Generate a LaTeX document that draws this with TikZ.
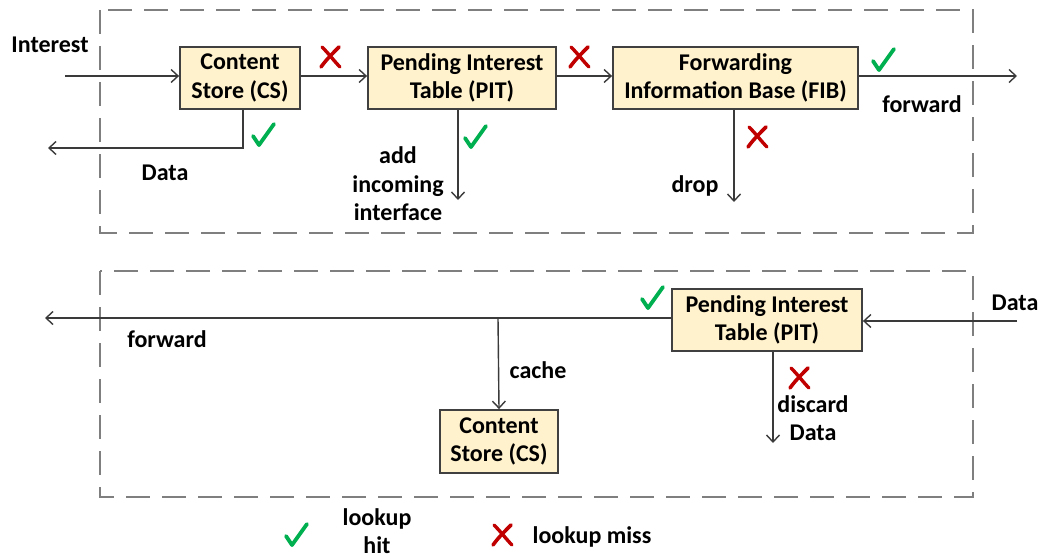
\documentclass[tikz,border=0pt]{standalone}
\usepackage{fontspec}
\setmainfont{Carlito}
\usetikzlibrary{arrows.meta}
\definecolor{boxfill}{HTML}{FFF2CC}
\definecolor{boxline}{HTML}{404040}
\definecolor{arrline}{HTML}{3A3A3A}
\definecolor{dashgray}{HTML}{7F7F7F}
\definecolor{okgreen}{HTML}{00B050}
\definecolor{nored}{HTML}{C00000}
\begin{document}
\begin{tikzpicture}[x=1pt,y=-1pt,
  font=\bfseries\fontsize{24}{28.5}\selectfont,
  box/.style={draw=boxline, line width=1.8pt, fill=boxfill, align=center, inner sep=0pt},
  arr/.style={draw=arrline, line width=1.4pt, -{Straight Barb[length=7pt,width=13pt,line width=1.4pt]}},
  dbox/.style={draw=dashgray, line width=2.6pt, dash pattern=on 24pt off 12pt},
  lbl/.style={inner sep=0pt, align=center},
  chk/.pic={\draw[okgreen, line width=3.8pt, line cap=round, line join=round] (-10,1) -- (-4,10) -- (11,-11);},
  crs/.pic={\draw[nored, line width=3.4pt, line cap=round] (-8,-10) .. controls (0,-2) and (4,4) .. (10,10);
            \draw[nored, line width=3.6pt, line cap=round] (9,-10) .. controls (2,-3) and (-4,3) .. (-9,10);}
]
\useasboundingbox (0,0) rectangle (1046,559);

% dashed frames
\draw[dbox] (100,10) rectangle (973,233);
\draw[dbox] (100,271) rectangle (973,497);

% top row boxes
\node[box, minimum width=120pt, minimum height=62pt] (cs1) at (240,78) {Content\\Store (CS)};
\node[box, minimum width=188pt, minimum height=62pt] (pit1) at (462,78) {Pending Interest\\Table (PIT)};
\node[box, minimum width=245pt, minimum height=62pt] (fib) at (735.5,78) {Forwarding\\Information Base (FIB)};

% bottom row boxes
\node[box, minimum width=190pt, minimum height=62pt] (pit2) at (767,320) {Pending Interest\\Table (PIT)};
\node[box, minimum width=118pt, minimum height=63pt] (cs2) at (499,441.5) {Content\\Store (CS)};

% coordinates
\coordinate (inS) at (65,76);
\coordinate (dataout) at (48,148);
\coordinate (pitend) at (458,200);
\coordinate (fibend) at (734,202);
\coordinate (fwdout) at (1017,76);
\coordinate (datain) at (1017,321);
\coordinate (fwd2) at (45,318);
\coordinate (br) at (498,318);
\coordinate (disc) at (773,443);

% top connectors
\draw[arr] (inS) -- (inS -| cs1.west);
\draw[arr] (cs1.east |- inS) -- (inS -| pit1.west);
\draw[arr] (pit1.east |- inS) -- (inS -| fib.west);
\draw[arr] (fib.east |- fwdout) -- (fwdout);
\draw[arr] ([xshift=3pt]cs1.south) |- (dataout);
\draw[arr] (pit1.south -| pitend) -- (pitend);
\draw[arr] (fib.south -| fibend) -- (fibend);

% bottom connectors
\draw[arr] (datain) -- (datain -| pit2.east);
\draw[arr] (pit2.west |- fwd2) -- (fwd2);
\draw[arr] (br) -- (cs2.north);
\draw[arr] (pit2.south -| disc) -- (disc);

% labels
\node[lbl] (lInterest) at (50,45) {Interest};
\node[lbl] (lData1) at (165,173) {Data};
\node[lbl] (lAdd) at (398,184) {add\\incoming\\interface};
\node[lbl] (lDrop) at (695,186) {drop};
\node[lbl] (lFwd1) at (922,104) {forward};
\node[lbl] (lFwd2) at (167,339) {forward};
\node[lbl] (lCache) at (538,370) {cache};
\node[lbl] (lDisc) at (813,418) {discard\\Data};
\node[lbl] (lData2) at (1015,303) {Data};
\node[lbl] (lHit) at (377,531) {lookup\\hit};
\node[lbl] (lMiss) at (592,537) {lookup miss};

% marks
\pic at (263,135) {chk};
\pic at (475,137) {chk};
\pic at (883,60) {chk};
\pic at (652,298) {chk};
\pic at (296,535) {chk};
\pic at (330,57) {crs};
\pic at (579,57) {crs};
\pic at (757,137) {crs};
\pic at (799,378) {crs};
\pic at (502,535) {crs};
\end{tikzpicture}
\end{document}
